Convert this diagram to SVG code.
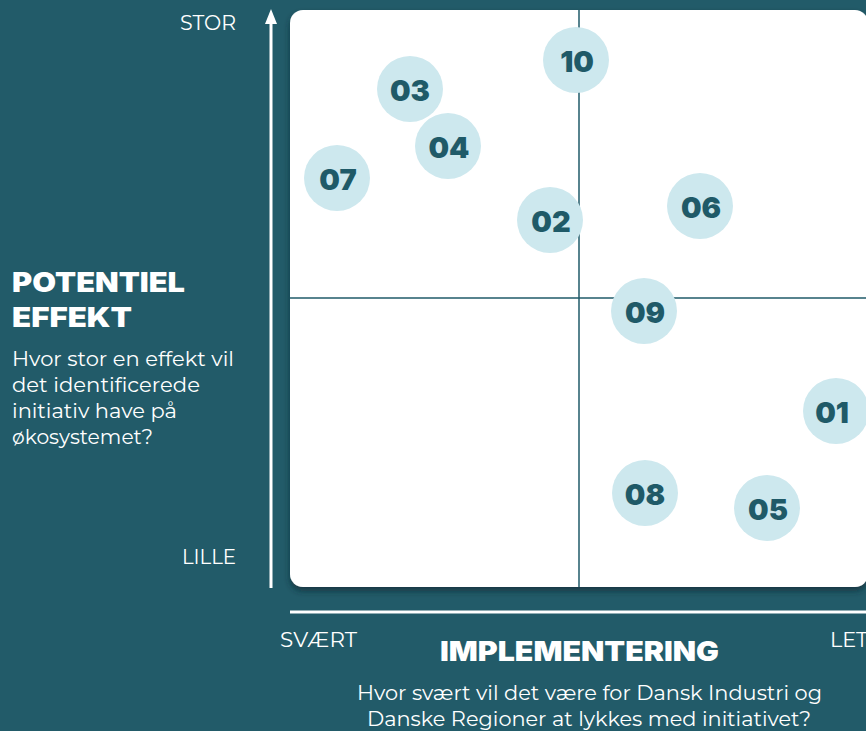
<svg xmlns="http://www.w3.org/2000/svg" width="866" height="731" viewBox="0 0 866 731">
  <defs>
    <filter id="panelShadow" x="-5%" y="-5%" width="110%" height="115%">
      <feDropShadow dx="0" dy="4" stdDeviation="3" flood-color="#0b2830" flood-opacity="0.7"/>
    </filter>
    <style>
      .lbl { font-family: Montserrat, "Noto Sans", "Open Sans", sans-serif; fill: #ffffff; }
      .axis-word { font-size: 20px; }
      .heading { font-family: "Inter", "Noto Sans", sans-serif; font-weight: 900; font-size: 27px; fill: #ffffff; }
      .body { font-size: 21px; }
      .bubble circle { fill: #cde8ee; }
      .bubble text { font-family: "Inter", "Noto Sans", sans-serif; font-weight: 900; font-size: 29px; fill: #1f5a68; text-anchor: middle; }
      .grid { stroke: #1f5a68; stroke-width: 1.5; }
    </style>
  </defs>

  <!-- background -->
  <rect x="0" y="0" width="866" height="731" fill="#225b69"/>

  <!-- matrix panel -->
  <rect x="290" y="10" width="578" height="577" rx="13" ry="13" fill="#ffffff" filter="url(#panelShadow)"/>

  <!-- quadrant dividers and axes -->
  <g id="connectors">
    <line class="grid" x1="579" y1="10" x2="579" y2="587"/>
    <line class="grid" x1="290" y1="298" x2="868" y2="298"/>
    <line x1="271" y1="588" x2="271" y2="20" stroke="#ffffff" stroke-width="3"/>
    <polygon points="271,9 277,24 265,24" fill="#ffffff"/>
    <line x1="290" y1="612" x2="866" y2="612" stroke="#ffffff" stroke-width="3"/>
  </g>

  <!-- vertical axis labels -->
  <text class="lbl axis-word" x="236" y="30" text-anchor="end" textLength="56" lengthAdjust="spacingAndGlyphs">STOR</text>
  <text class="lbl axis-word" x="236" y="564" text-anchor="end" textLength="54" lengthAdjust="spacingAndGlyphs">LILLE</text>
  <text class="heading" x="12" y="292" textLength="173" lengthAdjust="spacingAndGlyphs">POTENTIEL</text>
  <text class="heading" x="12" y="327" textLength="120" lengthAdjust="spacingAndGlyphs">EFFEKT</text>
  <text class="lbl body" x="12" y="366" textLength="222" lengthAdjust="spacingAndGlyphs">Hvor stor en effekt vil</text>
  <text class="lbl body" x="12" y="392" textLength="188" lengthAdjust="spacingAndGlyphs">det identificerede</text>
  <text class="lbl body" x="12" y="418" textLength="165" lengthAdjust="spacingAndGlyphs">initiativ have på</text>
  <text class="lbl body" x="12" y="444" textLength="141" lengthAdjust="spacingAndGlyphs">økosystemet?</text>

  <!-- horizontal axis labels -->
  <text class="lbl axis-word" x="280" y="647" textLength="77" lengthAdjust="spacingAndGlyphs">SVÆRT</text>
  <text class="lbl axis-word" x="830" y="647" textLength="38" lengthAdjust="spacingAndGlyphs">LET</text>
  <text class="heading" x="440" y="661" textLength="279" lengthAdjust="spacingAndGlyphs">IMPLEMENTERING</text>
  <text class="lbl body" x="357" y="700" textLength="465" lengthAdjust="spacingAndGlyphs">Hvor svært vil det være for Dansk Industri og</text>
  <text class="lbl body" x="367" y="726" textLength="444" lengthAdjust="spacingAndGlyphs">Danske Regioner at lykkes med initiativet?</text>

  <!-- initiative bubbles -->
  <g id="n10" class="bubble"><circle cx="576" cy="60" r="33"/><text x="577" y="72">10</text></g>
  <g id="n03" class="bubble"><circle cx="410" cy="89" r="33"/><text x="410" y="101">03</text></g>
  <g id="n04" class="bubble"><circle cx="448" cy="146" r="33"/><text x="449" y="158">04</text></g>
  <g id="n07" class="bubble"><circle cx="337" cy="178" r="33"/><text x="338" y="190">07</text></g>
  <g id="n02" class="bubble"><circle cx="550" cy="220" r="33"/><text x="551" y="232">02</text></g>
  <g id="n06" class="bubble"><circle cx="700" cy="206" r="33"/><text x="701" y="218">06</text></g>
  <g id="n09" class="bubble"><circle cx="644" cy="311" r="33"/><text x="645" y="323">09</text></g>
  <g id="n01" class="bubble"><circle cx="836" cy="411" r="33"/><text x="832" y="423">01</text></g>
  <g id="n08" class="bubble"><circle cx="645" cy="493" r="33"/><text x="645" y="505">08</text></g>
  <g id="n05" class="bubble"><circle cx="767" cy="508" r="33"/><text x="768" y="520">05</text></g>
</svg>
